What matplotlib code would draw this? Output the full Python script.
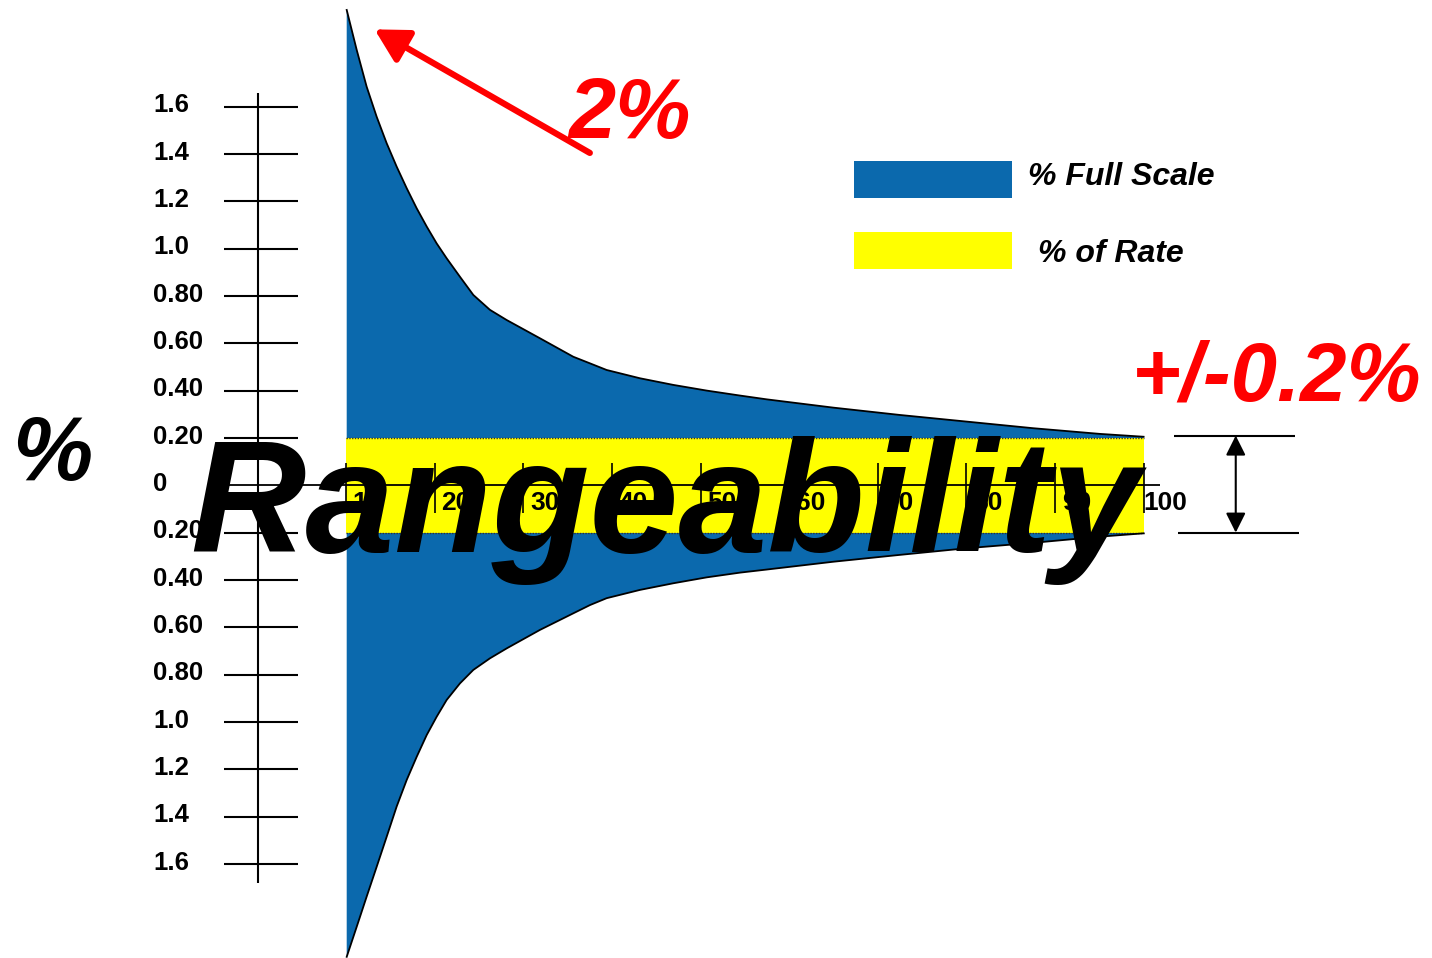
import matplotlib
matplotlib.use('Agg')
import matplotlib.pyplot as plt
from matplotlib.patches import Rectangle

plt.rcParams['font.family'] = ['Liberation Sans', 'DejaVu Sans']

# flow (% of max) vs error (%)
upper_x = [10.06, 11.19, 12.31, 13.44, 14.57, 15.70, 16.83, 17.96, 19.09, 20.21,
           21.34, 22.84, 24.35, 26.23, 28.12, 31.87, 35.63, 37.52, 39.40, 43.16,
           46.92, 50.69, 54.45, 57.46, 64.98, 72.50, 80.03, 87.55, 95.08, 100.0]
upper_y = [2.008, 1.839, 1.684, 1.557, 1.445, 1.346, 1.255, 1.170, 1.093, 1.022,
           0.959, 0.881, 0.804, 0.741, 0.698, 0.621, 0.543, 0.515, 0.487, 0.452,
           0.424, 0.400, 0.379, 0.363, 0.328, 0.297, 0.269, 0.241, 0.217, 0.205]
lower_x = [10.06, 11.19, 12.31, 13.44, 14.57, 15.70, 16.83, 17.96, 19.09, 20.21,
           21.34, 22.84, 24.35, 26.23, 28.12, 31.87, 35.63, 37.52, 39.40, 43.16,
           46.92, 50.69, 54.45, 57.46, 64.98, 72.50, 80.03, 87.55, 95.08, 100.0]
lower_y = [-1.992, -1.865, -1.738, -1.612, -1.485, -1.357, -1.245, -1.147, -1.055, -0.978,
           -0.907, -0.837, -0.780, -0.731, -0.689, -0.611, -0.541, -0.506, -0.477, -0.442,
           -0.414, -0.389, -0.369, -0.356, -0.323, -0.294, -0.266, -0.243, -0.217, -0.203]

# % of rate band
rate_x = [10, 100]
rate_hi = 0.2
rate_lo = -0.2

y_ticks = [1.6, 1.4, 1.2, 1.0, 0.8, 0.6, 0.4, 0.2, 0, -0.2, -0.4, -0.6, -0.8, -1.0, -1.2, -1.4, -1.6]
y_labels = ['1.6', '1.4', '1.2', '1.0', '0.80', '0.60', '0.40', '0.20', '0',
            '0.20', '0.40', '0.60', '0.80', '1.0', '1.2', '1.4', '1.6']
x_ticks = [10, 20, 30, 40, 50, 60, 70, 80, 90, 100]
x_labels = ['10', '20', '30', '40', '50', '60', '70', '80', '90', '100']

blue = '#0B69AD'
yellow = '#FFFF00'

fig = plt.figure(figsize=(14.32, 9.58), dpi=100)
ax = fig.add_axes([0, 0, 1, 1])
ax.set_xlim(-29.07, 132.55)
ax.set_ylim(-1.997, 2.050)
ax.axis('off')

# full scale funnel
ax.fill(upper_x + lower_x[::-1], upper_y + lower_y[::-1], color=blue, lw=0, zorder=1)
# rate band
ax.fill_between(rate_x, rate_lo, rate_hi, color=yellow, lw=0, zorder=2)
ax.plot(rate_x, [rate_hi, rate_hi], color='#333333', lw=1, ls=(0, (1, 1)), zorder=3)
ax.plot(rate_x, [rate_lo, rate_lo], color='#333333', lw=1, ls=(0, (1, 1)), zorder=3)
ax.plot(upper_x, upper_y, color='black', lw=1.3, zorder=3, solid_joinstyle='round')
ax.plot(lower_x, lower_y, color='black', lw=1.3, zorder=3, solid_joinstyle='round')

# hand drawn axes
ax.vlines(0, -1.68, 1.657, color='black', lw=1.5, zorder=4)
ax.hlines([t for t in y_ticks if t != 0], -3.8, 4.6, color='black', lw=1.5, zorder=4)
ax.hlines(0, -3.8, 101.9, color='black', lw=1.3, zorder=4)
ax.vlines(x_ticks, -0.118, 0.094, color='black', lw=1.2, zorder=4)

for t, lab in zip(y_ticks, y_labels):
    ax.text(-11.8, t + 0.005, lab, ha='left', va='center', fontsize=18.5,
            fontweight='bold', zorder=5)
for t, lab in zip(x_ticks, x_labels):
    ax.text(t + 2.4, -0.075, lab, ha='center', va='center', fontsize=19,
            fontweight='bold', zorder=5)

# legend
ax.add_patch(Rectangle((67.3, 1.214), 17.85, 0.156, color=blue, lw=0, zorder=5))
ax.add_patch(Rectangle((67.3, 0.914), 17.85, 0.156, color=yellow, lw=0, zorder=5))
ax.text(86.9, 1.269, '% Full Scale', fontsize=23, fontweight='bold', fontstyle='italic',
        va='baseline', zorder=5)
ax.text(88.1, 0.945, '% of Rate', fontsize=23, fontweight='bold', fontstyle='italic',
        va='baseline', zorder=5)

# annotations
ax.annotate('', xy=(13.2, 1.926), xytext=(37.5, 1.404),
            arrowprops=dict(arrowstyle='-|>,head_length=1.0,head_width=0.55',
                            mutation_scale=20, lw=4.5, color='red',
                            shrinkA=0, shrinkB=0), zorder=6)
ax.text(35.1, 1.467, '2%', color='red', fontsize=61, fontweight='bold',
        fontstyle='italic', va='baseline', zorder=6)
ax.text(98.7, 0.36, '+/-0.2%', color='red', fontsize=60, fontweight='bold',
        fontstyle='italic', va='baseline', zorder=6)

ax.hlines(0.21, 103.4, 117.1, color='black', lw=1.5, zorder=5)
ax.hlines(-0.2, 103.9, 117.5, color='black', lw=1.5, zorder=5)
ax.annotate('', xy=(110.4, 0.21), xytext=(110.4, -0.2),
            arrowprops=dict(arrowstyle='<|-|>,head_length=0.6,head_width=0.3',
                            mutation_scale=20, lw=1.5, color='black',
                            shrinkA=0, shrinkB=0), zorder=5)

ax.text(-27.75, 0.022, '%', fontsize=65, fontweight='bold', fontstyle='italic',
        va='baseline', zorder=6)
ax.text(-7.6, -0.282, 'Rangeability', fontsize=115, fontweight='bold',
        fontstyle='italic', va='baseline', zorder=7)

fig.savefig('out.png', dpi=100)
